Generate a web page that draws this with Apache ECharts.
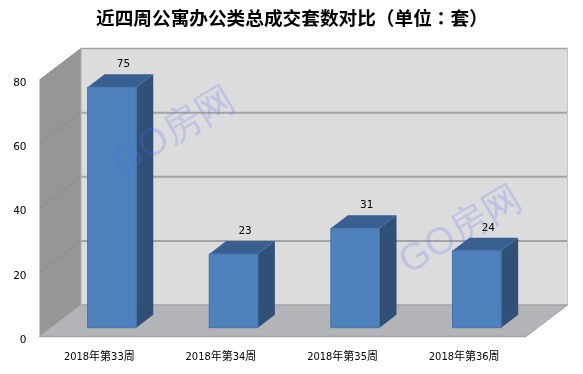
<!DOCTYPE html>
<html>
<head>
<meta charset="utf-8">
<style>
  html, body { margin: 0; padding: 0; background: #fff; }
  #chart { width: 583px; height: 374px; }
</style>
<script src="https://cdn.jsdelivr.net/npm/echarts@6/dist/echarts.min.js"></script>
</head>
<body>
<div id="chart"></div>
<script>
var categories = ['2018年第33周', '2018年第34周', '2018年第35周', '2018年第36周'];
var seriesValues = [75, 23, 31, 24];
var yTicks = [0, 20, 40, 60, 80];
var watermarkText = 'GO房网';

// fake 3d depth of the Excel-style box, in pixels
var DEPTH_X = 41.5;
var DEPTH_Y = 31.5;
var BAR_FRONT = 0.28;
var BAR_BACK = 0.69;
var BAR_RATIO = 0.4;

function shift(pt, d) {
  return [pt[0] + d * DEPTH_X, pt[1] - d * DEPTH_Y];
}

function poly(points, fill, stroke, lw) {
  return {
    type: 'polygon',
    shape: { points: points },
    style: { fill: fill, stroke: stroke || null, lineWidth: lw || 0 }
  };
}

function seg(a, b, color, lw) {
  return {
    type: 'line',
    shape: { x1: a[0], y1: a[1], x2: b[0], y2: b[1] },
    style: { stroke: color, lineWidth: lw }
  };
}

function renderWalls(params, api) {
  var box = params.coordSys;
  var left = box.x, right = box.x + box.width;
  var y0 = api.coord([0, yTicks[0]])[1];
  var yTop = api.coord([0, yTicks[yTicks.length - 1]])[1];
  var kids = [];
  // back wall
  kids.push(poly([shift([left, yTop], 1), shift([right, yTop], 1), shift([right, y0], 1), shift([left, y0], 1)], '#dcdcdc'));
  // left wall
  kids.push(poly([[left, yTop], shift([left, yTop], 1), shift([left, y0], 1), [left, y0]], '#969696'));
  // floor
  kids.push(poly([[left, y0], [right, y0], shift([right, y0], 1), shift([left, y0], 1)], '#b2b4b8'));
  yTicks.forEach(function (t) {
    var y = api.coord([0, t])[1];
    var isEdge = t === yTicks[0] || t === yTicks[yTicks.length - 1];
    kids.push(seg(shift([left, y], 1), shift([right, y], 1), '#a3a3a3', isEdge ? 1.5 : 2));
    if (t !== yTicks[0]) {
      kids.push(seg([left, y], shift([left, y], 1), '#8a8a8a', 1));
    }
  });
  kids.push(seg(shift([left, yTop], 1), shift([left, y0], 1), '#adadad', 1));
  kids.push(seg(shift([right, yTop], 1), shift([right, y0], 1), '#c4c4c4', 1));
  kids.push(seg([left, y0], [right, y0], '#a0a0a0', 1.5));
  kids.push(seg([right, y0], shift([right, y0], 1), '#a0a0a0', 1));
  kids.push(seg([left, y0], shift([left, y0], 1), '#a8a8a8', 1));
  return { type: 'group', children: kids };
}

function renderBar(params, api) {
  var idx = api.value(0);
  var val = api.value(1);
  var w = api.size([1, 0])[0] * BAR_RATIO;
  var c = api.coord([idx, 0]);
  var yv = api.coord([idx, val])[1];
  var x1 = c[0] - w / 2, x2 = c[0] + w / 2;
  var fTL = shift([x1, yv], BAR_FRONT), fTR = shift([x2, yv], BAR_FRONT);
  var fBL = shift([x1, c[1]], BAR_FRONT), fBR = shift([x2, c[1]], BAR_FRONT);
  var bTL = shift([x1, yv], BAR_BACK), bTR = shift([x2, yv], BAR_BACK);
  var bBR = shift([x2, c[1]], BAR_BACK);
  return {
    type: 'group',
    children: [
      poly([fTR, bTR, bBR, fBR], '#305078'),
      poly([fTL, fTR, bTR, bTL], '#385f8f'),
      poly([fTL, fTR, fBR, fBL], '#4f81bd', '#4473a8', 1),
      {
        type: 'text',
        x: (fTR[0] + bTL[0]) / 2 + 3,
        y: bTL[1] - 10,
        style: {
          text: String(val),
          fill: '#000',
          font: '10.5px "DejaVu Sans"',
          align: 'center',
          verticalAlign: 'middle'
        }
      }
    ]
  };
}

var chart = echarts.init(document.getElementById('chart'), null, { renderer: 'canvas' });
chart.setOption({
  animation: false,
  backgroundColor: '#fff',
  title: {
    text: '{a|近四周公寓办公类总成交套数对比}{b|（}{a|单位}{b|：}{a|套}{b|）}',
    left: 91,
    top: 4,
    textStyle: {
      rich: {
        a: { fontFamily: '"Noto Sans CJK SC"', fontSize: 18.67, fontWeight: 'bold', color: '#000' },
        b: { fontFamily: '"Noto Sans CJK TC"', fontSize: 18.67, fontWeight: 'bold', color: '#000' }
      }
    }
  },
  grid: { left: 39.5, right: 57, top: 80, bottom: 37.5 },
  xAxis: {
    type: 'category',
    data: categories,
    axisLine: { show: false },
    axisTick: { show: false },
    axisLabel: { margin: 15, padding: [0, 2, 0, 0], color: '#000', fontSize: 11, fontFamily: '"DejaVu Sans Condensed", "Noto Sans CJK SC"' }
  },
  yAxis: {
    type: 'value',
    min: 0,
    max: 80,
    interval: 20,
    axisLine: { show: false },
    axisTick: { show: false },
    splitLine: { show: false },
    axisLabel: { margin: 13, verticalAlign: 'top', lineHeight: 7, color: '#000', fontSize: 10.5, fontFamily: '"DejaVu Sans"' }
  },
  series: [
    { type: 'custom', renderItem: renderWalls, data: [[0, 0]], clip: false, silent: true, z: 1 },
    {
      type: 'custom',
      renderItem: renderBar,
      data: seriesValues.map(function (v, i) { return [i, v]; }),
      encode: { x: 0, y: 1 },
      clip: false,
      z: 2
    }
  ],
  graphic: [
    {
      type: 'text', z: 50, x: 174, y: 132, rotation: 0.54,
      style: { text: watermarkText, fill: 'rgba(80,110,255,0.22)', font: '38px "Liberation Sans"', align: 'center', verticalAlign: 'middle' }
    },
    {
      type: 'text', z: 50, x: 461, y: 231, rotation: 0.54,
      style: { text: watermarkText, fill: 'rgba(80,110,255,0.22)', font: '38px "Liberation Sans"', align: 'center', verticalAlign: 'middle' }
    }
  ]
});
</script>
</body>
</html>
